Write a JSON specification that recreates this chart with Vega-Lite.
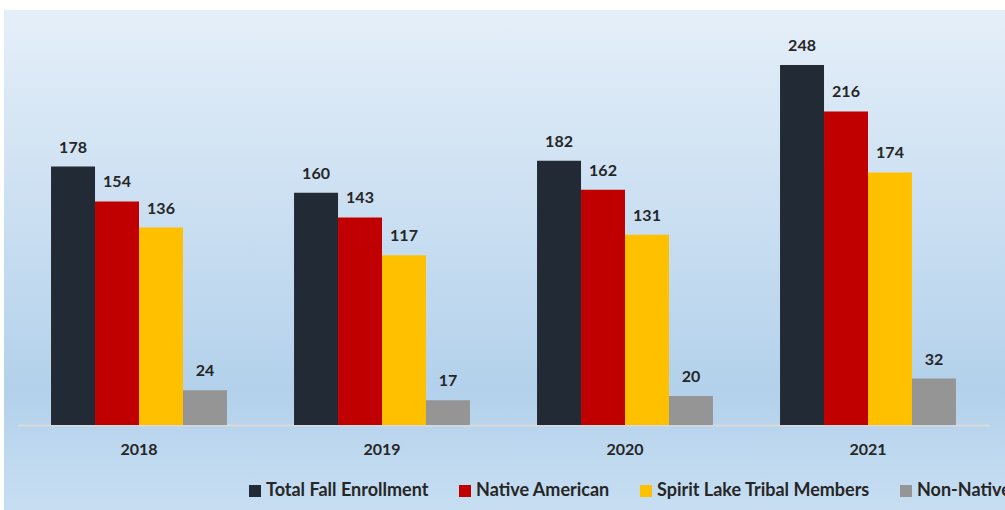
{
  "$schema": "https://vega.github.io/schema/vega-lite/v6.json",
  "autosize": {"type": "none"},
  "padding": {"left": 4, "top": 10, "right": 0, "bottom": 0},
  "width": 1001,
  "height": 500,
  "background": "#FFFFFF",
  "config": {
    "view": {
      "stroke": null,
      "fill": {
        "gradient": "linear",
        "x1": 0, "y1": 0, "x2": 0, "y2": 1,
        "stops": [
          {"offset": 0, "color": "#E5EFF9"},
          {"offset": 0.76, "color": "#B3D1EB"},
          {"offset": 1, "color": "#C7DEF2"}
        ]
      }
    },
    "font": "Lato"
  },
  "data": {
    "values": [
      {"year": "2018", "series": "Total Fall Enrollment", "value": 178},
      {"year": "2018", "series": "Native American", "value": 154},
      {"year": "2018", "series": "Spirit Lake Tribal Members", "value": 136},
      {"year": "2018", "series": "Non-Native", "value": 24},
      {"year": "2019", "series": "Total Fall Enrollment", "value": 160},
      {"year": "2019", "series": "Native American", "value": 143},
      {"year": "2019", "series": "Spirit Lake Tribal Members", "value": 117},
      {"year": "2019", "series": "Non-Native", "value": 17},
      {"year": "2020", "series": "Total Fall Enrollment", "value": 182},
      {"year": "2020", "series": "Native American", "value": 162},
      {"year": "2020", "series": "Spirit Lake Tribal Members", "value": 131},
      {"year": "2020", "series": "Non-Native", "value": 20},
      {"year": "2021", "series": "Total Fall Enrollment", "value": 248},
      {"year": "2021", "series": "Native American", "value": 216},
      {"year": "2021", "series": "Spirit Lake Tribal Members", "value": 174},
      {"year": "2021", "series": "Non-Native", "value": 32}
    ]
  },
  "encoding": {
    "x": {
      "field": "year",
      "type": "nominal",
      "scale": {"range": [13.5, 985.5], "paddingInner": 0.276, "paddingOuter": 0.138},
      "axis": {
        "title": null,
        "orient": "bottom",
        "offset": -85,
        "labelAngle": 0,
        "ticks": false,
        "domainColor": "#D9D9D9",
        "domainWidth": 2,
        "labelPadding": 16,
        "labelFont": "Lato",
        "labelFontSize": 16,
        "labelFontWeight": "bold",
        "labelColor": "#262626"
      }
    },
    "xOffset": {
      "field": "series",
      "type": "nominal",
      "sort": ["Total Fall Enrollment", "Native American", "Spirit Lake Tribal Members", "Non-Native"],
      "scale": {"paddingInner": 0, "paddingOuter": 0}
    },
    "y": {
      "field": "value",
      "type": "quantitative",
      "scale": {"domain": [0, 248], "range": [415, 55], "nice": false, "zero": true},
      "axis": null
    }
  },
  "layer": [
    {
      "mark": {"type": "bar"},
      "encoding": {
        "color": {
          "field": "series",
          "type": "nominal",
          "sort": ["Total Fall Enrollment", "Native American", "Spirit Lake Tribal Members", "Non-Native"],
          "scale": {
            "domain": ["Total Fall Enrollment", "Native American", "Spirit Lake Tribal Members", "Non-Native"],
            "range": ["#222A35", "#C00000", "#FFC000", "#959595"]
          },
          "legend": {
            "title": null,
            "orient": "none",
            "legendX": 242,
            "legendY": 472,
            "padding": 0,
            "direction": "horizontal",
            "columns": 4,
            "symbolType": "square",
            "symbolSize": 144,
            "symbolStrokeWidth": 0,
            "symbolOpacity": 1,
            "labelFont": "Lato",
            "labelFontSize": 18,
            "labelFontWeight": "bold",
            "labelColor": "#262626",
            "labelOffset": 2,
            "columnPadding": 27,
            "labelLimit": 400
          }
        }
      }
    },
    {
      "mark": {
        "type": "text",
        "baseline": "alphabetic",
        "dy": -14,
        "font": "Lato",
        "fontSize": 16,
        "fontWeight": "bold",
        "color": "#262626"
      },
      "encoding": {
        "text": {"field": "value", "type": "quantitative"}
      }
    }
  ]
}
